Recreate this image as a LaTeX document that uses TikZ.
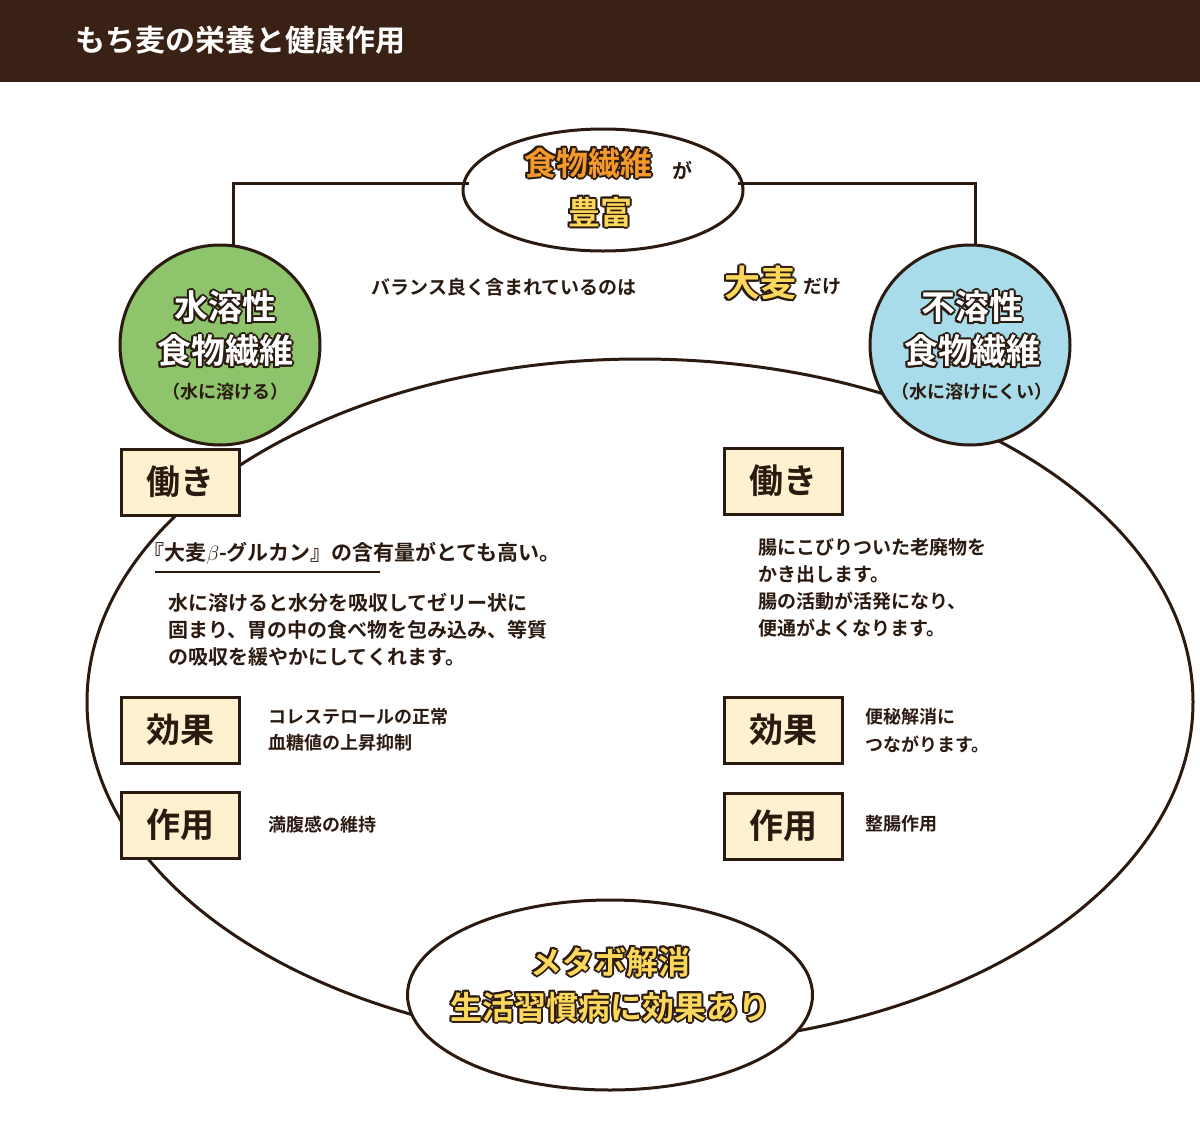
\documentclass[tikz,border=0pt]{standalone}
\usepackage{fontspec}
\usetikzlibrary{shapes.geometric}
\setmainfont{Noto Sans CJK JP}
\newfontfamily\jpb{Noto Sans CJK JP Bold}
\definecolor{brn}{HTML}{3A2116}
\definecolor{dk}{HTML}{2A1A10}
\definecolor{crm}{HTML}{FDF2CF}
\definecolor{grn}{HTML}{8DC46C}
\definecolor{blu}{HTML}{A8DCEA}
\definecolor{org}{HTML}{F39A2B}
\definecolor{ylw}{HTML}{FBD75B}
\tikzset{
 lbox/.style={draw=dk,line width=3pt,fill=crm,minimum width=118pt,minimum height=66pt,font=\jpb\fontsize{34}{34}\selectfont,text=dk},
 body/.style={text=dk,font=\jpb\fontsize{20}{27}\selectfont,align=left,anchor=north west},
 ol/.style={draw=dk,line width=3pt},
}
\newcommand{\outl}[5]{% name, x,y, color, font, text
 \foreach \dx/\dy in {-2/0,2/0,0/-2,0/2,-1.5/-1.5,1.5/1.5,-1.5/1.5,1.5/-1.5}{
  \node[text=dk,font=#4,align=center] at ([xshift=\dx pt,yshift=\dy pt]#2) {#5};}
 \node[text=#3,font=#4,align=center] (#1) at (#2) {#5};}
\begin{document}
\begin{tikzpicture}[x=1pt,y=-1pt]
\useasboundingbox (0,0) rectangle (1200,1138);
\fill[brn] (0,0) rectangle (1200,82);
\node[anchor=west,text=white,font=\jpb\fontsize{30}{30}\selectfont] (title) at (72,40) {もち麦の栄養と健康作用};
% big ellipse
\draw[ol] (640,702) ellipse [x radius=553, y radius=343];
% top ellipse
\node[ol,fill=white,ellipse,minimum width=280pt,minimum height=122pt] (top) at (603,190) {};
\coordinate (tl) at (469,183); \coordinate (tr) at (738,183);
\coordinate (lc) at (233,250); \coordinate (rc) at (975,250);
\draw[ol] (tl) -- (233,183) -- (lc);
\draw[ol] (tr) -- (975,183) -- (rc);
\outl{t1}{588,163}{org}{\jpb\fontsize{32}{32}\selectfont}{食物繊維}
\node[text=dk,font=\jpb\fontsize{20}{20}\selectfont] (ga) at (682,170) {が};
\outl{t2}{600,212}{ylw}{\jpb\fontsize{32}{32}\selectfont}{豊富}
% circles
\node[ol,circle,fill=grn,minimum size=200pt] (lcirc) at (220,345) {};
\node[ol,circle,fill=blu,minimum size=200pt] (rcirc) at (970,345) {};
\outl{l1}{225,307}{white}{\jpb\fontsize{34}{34}\selectfont}{水溶性}
\outl{l2}{225,351}{white}{\jpb\fontsize{34}{34}\selectfont}{食物繊維}
\node[text=dk,font=\jpb\fontsize{18}{18}\selectfont] (l3) at (225,392) {（水に溶ける）};
\outl{r1}{972,307}{white}{\jpb\fontsize{34}{34}\selectfont}{不溶性}
\outl{r2}{972,351}{white}{\jpb\fontsize{34}{34}\selectfont}{食物繊維}
\node[text=dk,font=\jpb\fontsize{18}{18}\selectfont] (r3) at (972,392) {（水に溶けにくい）};
% middle sentence
\node[text=dk,font=\jpb\fontsize{19}{19}\selectfont,anchor=west] (bal) at (368,287) {バランス良く含まれているのは};
\outl{omg}{760,283}{ylw}{\jpb\fontsize{36}{36}\selectfont}{大麦}
\node[text=dk,font=\jpb\fontsize{19}{19}\selectfont,anchor=west] (dake) at (800,287) {だけ};
% boxes
\node[lbox] (b1) at (180,482) {働き};
\node[lbox] (b2) at (180,730) {効果};
\node[lbox] (b3) at (180,825) {作用};
\node[lbox] (b4) at (783,481) {働き};
\node[lbox] (b5) at (783,730) {効果};
\node[lbox] (b6) at (783,826) {作用};
% left texts
\node[text=dk,font=\jpb\fontsize{21}{21}\selectfont,anchor=west] (beta) at (140,553) {『大麦$\beta$-グルカン』の含有量がとても高い。};
\coordinate (u1) at (155,572); \coordinate (u2) at (380,572);
\draw[dk,line width=2.5pt] (u1) -- (u2);
\node[body] (lt) at (165,590) {水に溶けると水分を吸収してゼリー状に\\固まり、胃の中の食べ物を包み込み、等質\\の吸収を緩やかにしてくれます。};
\node[body,font=\jpb\fontsize{18}{26}\selectfont] (le) at (265,705) {コレステロールの正常\\血糖値の上昇抑制};
\node[body,font=\jpb\fontsize{18}{26}\selectfont] (lu) at (265,812) {満腹感の維持};
% right texts
\node[body,font=\jpb\fontsize{19}{27}\selectfont] (rt) at (755,535) {腸にこびりついた老廃物を\\かき出します。\\腸の活動が活発になり、\\便通がよくなります。};
\node[body,font=\jpb\fontsize{18}{28}\selectfont] (re) at (862,705) {便秘解消に\\つながります。};
\node[body,font=\jpb\fontsize{18}{26}\selectfont] (ru) at (862,812) {整腸作用};
% bottom ellipse
\node[ol,fill=white,ellipse,minimum width=405pt,minimum height=190pt] (bot) at (610,995) {};
\outl{m1}{610,962}{ylw}{\jpb\fontsize{32}{32}\selectfont}{メタボ解消}
\outl{m2}{610,1007}{ylw}{\jpb\fontsize{32}{32}\selectfont}{生活習慣病に効果あり}
\end{tikzpicture}
\end{document}
